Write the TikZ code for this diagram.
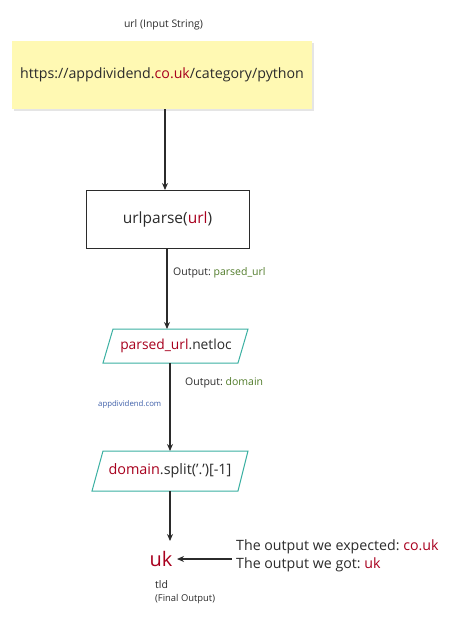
\documentclass[tikz,border=0pt]{standalone}
\usepackage{fontspec}
\setmainfont{Open Sans}
\usetikzlibrary{arrows.meta}
\definecolor{dred}{HTML}{A8001E}
\definecolor{dgreen}{HTML}{4F7A28}
\definecolor{teal2}{HTML}{3BB0A2}
\definecolor{lblue}{HTML}{3D5EA8}
\definecolor{txt}{HTML}{2B2B2B}
\definecolor{yel}{HTML}{FFF9B3}
\tikzset{
  conn/.style={draw=txt, line width=1.2pt, -{Stealth[length=7pt,width=6pt]}},
  para/.style={draw=teal2, line width=1pt, fill=white},
  lbl/.style={text=txt, inner sep=0pt},
}
\frenchspacing
\begin{document}
\begin{tikzpicture}[x=1pt,y=-1pt]
\useasboundingbox (0,0) rectangle (474,622);
% title
\node[lbl, font=\fontsize{10.4}{12}\selectfont] (title) at (163.5,25) {url (Input String)};
% yellow box with shadow
\fill[black!10] (14,43) rectangle (314,111);
\node[fill=yel, minimum width=300pt, minimum height=68pt, inner sep=0pt] (inbox) at (162,75) {};
\node[lbl, font=\fontsize{14.2}{18}\selectfont] (intext) at (162,75) {https://appdividend.\textcolor{dred}{co.uk}/category/python};
% urlparse box
\node[draw=txt, line width=0.9pt, minimum width=163pt, minimum height=58pt, inner sep=0pt, font=\fontsize{15.5}{20}\selectfont, text=txt] (parse) at (167.5,219) {urlparse(\textcolor{dred}{url})};
% parallelogram 1
\coordinate (p1tl) at (113,329); \coordinate (p1tr) at (248,329);
\coordinate (p1br) at (238,363); \coordinate (p1bl) at (103,363);
\path[para] (p1tl) -- (p1tr) -- (p1br) -- (p1bl) -- cycle;
\node[lbl, font=\fontsize{13.8}{18}\selectfont] (p1) at (176,346) {\textcolor{dred}{parsed\_url}.netloc};
\coordinate (p1top) at (167,329); \coordinate (p1bot) at (170,363);
% parallelogram 2
\coordinate (p2tl) at (103,451); \coordinate (p2tr) at (248,451);
\coordinate (p2br) at (238,491); \coordinate (p2bl) at (92,491);
\path[para] (p2tl) -- (p2tr) -- (p2br) -- (p2bl) -- cycle;
\node[lbl, font=\fontsize{14.4}{18}\selectfont] (p2) at (170,471) {\textcolor{dred}{domain}.split('.')[-1]};
\coordinate (p2top) at (170,451); \coordinate (p2bot) at (170,491);
% result
\node[lbl, font=\fontsize{20}{24}\selectfont, text=dred] (uk) at (161,559) {uk};
\node[lbl, font=\fontsize{10.5}{12}\selectfont, anchor=west] (tld) at (155,585) {tld};
\node[lbl, font=\fontsize{9.4}{11}\selectfont, anchor=west] (fo) at (155,599) {(Final Output)};
% note
\node[lbl, font=\fontsize{14.2}{18.5}\selectfont, anchor=west, align=left] (note) at (236,556)
  {The output we expected: \textcolor{dred}{co.uk}\\The output we got: \textcolor{dred}{uk}};
% connectors
\coordinate (inbot) at (165,109);
\coordinate (parsetop) at (165,190);
\draw[conn] (inbot) -- (parsetop);
\coordinate (parsebot) at (167,248);
\draw[conn] (parsebot) -- (p1top);
\draw[conn] (p1bot) -- (p2top);
\coordinate (ukin) at (170,541);
\draw[conn] (p2bot) -- (ukin);
\coordinate (notel) at (232,559);
\coordinate (ukr) at (177,559);
\draw[conn] (notel) -- (ukr);
% edge labels
\node[lbl, font=\fontsize{10.5}{12}\selectfont, anchor=west] (l1) at (173,273) {Output: \textcolor{dgreen}{parsed\_url}};
\node[lbl, font=\fontsize{10.5}{12}\selectfont, anchor=west] (l2) at (185,383) {Output: \textcolor{dgreen}{domain}};
\node[lbl, font=\fontsize{7.8}{9}\selectfont, anchor=west, text=lblue] (l3) at (98,404) {appdividend.com};
\end{tikzpicture}
\end{document}
